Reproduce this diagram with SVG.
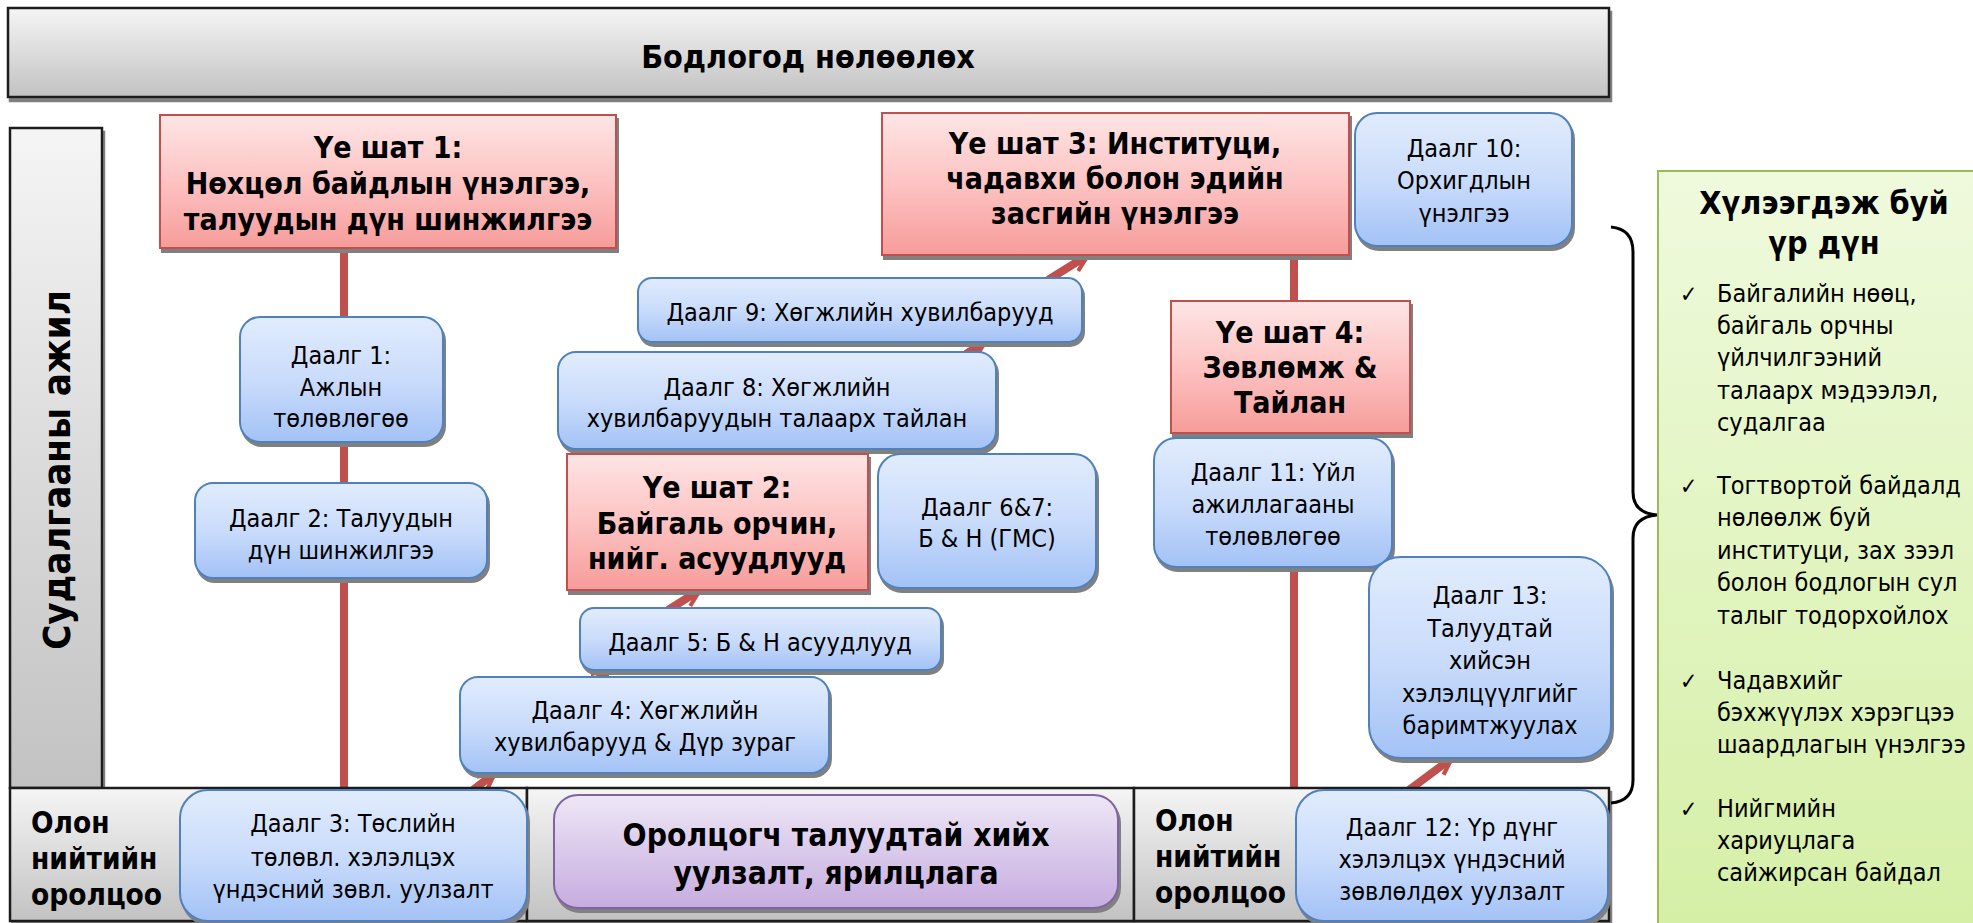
<svg xmlns="http://www.w3.org/2000/svg" width="1973" height="923" viewBox="0 0 1973 923">
<defs>
<linearGradient id="gGray" x1="0" y1="0" x2="0" y2="1"><stop offset="0" stop-color="#f5f5f5"/><stop offset="1" stop-color="#c2c2c2"/></linearGradient>
<linearGradient id="gRed" x1="0" y1="0" x2="0" y2="1"><stop offset="0" stop-color="#fee5e5"/><stop offset="0.5" stop-color="#fcc3c2"/><stop offset="1" stop-color="#f69c9a"/></linearGradient>
<linearGradient id="gBlue" x1="0" y1="0" x2="0" y2="1"><stop offset="0" stop-color="#e1ecfd"/><stop offset="0.5" stop-color="#cadcfb"/><stop offset="1" stop-color="#a3c2f6"/></linearGradient>
<linearGradient id="gPurple" x1="0" y1="0" x2="0" y2="1"><stop offset="0" stop-color="#eee7f6"/><stop offset="1" stop-color="#c6acdf"/></linearGradient>
<linearGradient id="gGreen" x1="0" y1="0" x2="0" y2="1"><stop offset="0" stop-color="#effadd"/><stop offset="1" stop-color="#d5efa6"/></linearGradient>
<filter id="sh" x="-5%" y="-5%" width="115%" height="125%">
<feFlood flood-color="#808080"/>
<feComposite in2="SourceAlpha" operator="in"/>
<feOffset dx="2" dy="4" result="o"/>
<feMerge><feMergeNode in="o"/><feMergeNode in="SourceGraphic"/></feMerge>
</filter>
<marker id="ah" viewBox="0 0 20 20" refX="17" refY="10" markerWidth="24" markerHeight="24" orient="auto" markerUnits="userSpaceOnUse">
<path d="M3,3 L17,10 L3,17" fill="none" stroke="#c0504d" stroke-width="3.5"/>
</marker>
</defs>
<style>
text{font-family:"DejaVu Sans Condensed","DejaVu Sans",sans-serif;fill:#000}
.b{font-weight:bold}
.c{text-anchor:middle}
.t{font-size:25px}
.st{font-size:30px;font-weight:bold;text-anchor:middle}
.op{font-size:29.5px;font-weight:bold}
.gray{fill:url(#gGray);stroke:#1e1e1e;stroke-width:2.5;filter:url(#sh)}
.red{fill:url(#gRed);stroke:#c0504d;stroke-width:2;filter:url(#sh)}
.blue{fill:url(#gBlue);stroke:#4f81bd;stroke-width:2;filter:url(#sh)}
.purple{fill:url(#gPurple);stroke:#8064a2;stroke-width:2;filter:url(#sh)}
.green{fill:url(#gGreen);stroke:#9bbb59;stroke-width:2}
.ln{stroke:#c0504d;stroke-width:8;fill:none}
.ar{stroke:#c0504d;stroke-width:8;fill:none;marker-end:url(#ah)}
</style>
<rect width="1973" height="923" fill="#ffffff"/>

<g id="connectors">
<line class="ln" x1="344" y1="248" x2="344" y2="790"/>
<line class="ln" x1="1294" y1="255" x2="1294" y2="790"/>
<line class="ar" x1="473" y1="790" x2="495" y2="773"/>
<line class="ar" x1="598" y1="679" x2="609" y2="670"/>
<line class="ar" x1="668" y1="610" x2="700" y2="590"/>
<line class="ar" x1="846" y1="456" x2="858" y2="449"/>
<line class="ar" x1="966" y1="354" x2="985" y2="342"/>
<line class="ar" x1="1048" y1="280" x2="1088" y2="255"/>
<line class="ar" x1="1409" y1="790" x2="1452" y2="758"/>
</g>

<g id="banner">
<rect class="gray" x="8" y="8" width="1601" height="89"/>
<text class="b c" x="808" y="68" font-size="32">Бодлогод нөлөөлөх</text>
</g>

<g id="research">
<rect class="gray" x="10" y="128" width="92" height="660"/>
<text class="b c" transform="translate(70,470) rotate(-90)" font-size="38">Судалгааны ажил</text>
</g>

<g id="stage1">
<rect class="red" x="160" y="115" width="456" height="133"/>
<text class="st" x="388" y="158">Үе шат 1:</text>
<text class="st" x="388" y="194">Нөхцөл байдлын үнэлгээ,</text>
<text class="st" x="388" y="230">талуудын дүн шинжилгээ</text>
</g>

<g id="stage3">
<rect class="red" x="882" y="113" width="467" height="142"/>
<text class="st" x="1115" y="154">Үе шат 3: Институци,</text>
<text class="st" x="1115" y="189">чадавхи болон эдийн</text>
<text class="st" x="1115" y="224">засгийн үнэлгээ</text>
</g>

<g id="task10">
<rect class="blue" x="1355" y="113" width="217" height="133" rx="22"/>
<text class="t c" x="1464" y="157">Даалг 10:</text>
<text class="t c" x="1464" y="189">Орхигдлын</text>
<text class="t c" x="1464" y="222">үнэлгээ</text>
</g>

<g id="stage4">
<rect class="red" x="1171" y="301" width="239" height="132"/>
<text class="st" x="1290" y="343">Үе шат 4:</text>
<text class="st" x="1290" y="378">Зөвлөмж &amp;</text>
<text class="st" x="1290" y="413">Тайлан</text>
</g>

<g id="task9">
<rect class="blue" x="638" y="278" width="444" height="64" rx="14"/>
<text class="t c" x="860" y="321">Даалг 9: Хөгжлийн хувилбарууд</text>
</g>

<g id="task8">
<rect class="blue" x="558" y="352" width="438" height="97" rx="18"/>
<text class="t c" x="777" y="396">Даалг 8: Хөгжлийн</text>
<text class="t c" x="777" y="427">хувилбаруудын талаарх тайлан</text>
</g>

<g id="task1">
<rect class="blue" x="240" y="317" width="203" height="125" rx="20"/>
<text class="t c" x="341" y="364">Даалг 1:</text>
<text class="t c" x="341" y="396">Ажлын</text>
<text class="t c" x="341" y="427">төлөвлөгөө</text>
</g>

<g id="task2">
<rect class="blue" x="195" y="483" width="292" height="95" rx="18"/>
<text class="t c" x="341" y="527">Даалг 2: Талуудын</text>
<text class="t c" x="341" y="559">дүн шинжилгээ</text>
</g>

<g id="stage2">
<rect class="red" x="567" y="454" width="301" height="136"/>
<text class="st" x="717" y="498">Үе шат 2:</text>
<text class="st" x="717" y="534">Байгаль орчин,</text>
<text class="st" x="717" y="569">нийг. асуудлууд</text>
</g>

<g id="task67">
<rect class="blue" x="878" y="454" width="218" height="134" rx="22"/>
<text class="t c" x="987" y="516">Даалг 6&amp;7:</text>
<text class="t c" x="987" y="547">Б &amp; Н (ГМС)</text>
</g>

<g id="task11">
<rect class="blue" x="1154" y="438" width="238" height="129" rx="22"/>
<text class="t c" x="1273" y="481">Даалг 11: Үйл</text>
<text class="t c" x="1273" y="513">ажиллагааны</text>
<text class="t c" x="1273" y="545">төлөвлөгөө</text>
</g>

<g id="task5">
<rect class="blue" x="580" y="608" width="361" height="62" rx="14"/>
<text class="t c" x="760" y="651">Даалг 5: Б &amp; Н асуудлууд</text>
</g>

<g id="task4">
<rect class="blue" x="460" y="677" width="369" height="96" rx="18"/>
<text class="t c" x="645" y="719">Даалг 4: Хөгжлийн</text>
<text class="t c" x="645" y="751">хувилбарууд &amp; Дүр зураг</text>
</g>

<g id="task13">
<rect class="blue" x="1369" y="557" width="242" height="201" rx="32"/>
<text class="t c" x="1490" y="604">Даалг 13:</text>
<text class="t c" x="1490" y="637">Талуудтай</text>
<text class="t c" x="1490" y="669">хийсэн</text>
<text class="t c" x="1490" y="702">хэлэлцүүлгийг</text>
<text class="t c" x="1490" y="734">баримтжуулах</text>
</g>

<g id="public-left">
<rect class="gray" x="10" y="788" width="517" height="133"/>
<text class="op" x="31" y="833">Олон</text>
<text class="op" x="31" y="869">нийтийн</text>
<text class="op" x="31" y="905">оролцоо</text>
</g>

<g id="meetings-band">
<rect class="gray" x="527" y="788" width="607" height="133"/>
</g>

<g id="public-right">
<rect class="gray" x="1134" y="788" width="475" height="133"/>
<text class="op" x="1155" y="831">Олон</text>
<text class="op" x="1155" y="867">нийтийн</text>
<text class="op" x="1155" y="903">оролцоо</text>
</g>

<g id="task3">
<rect class="blue" x="180" y="790" width="347" height="131" rx="28"/>
<text class="t c" x="353" y="832">Даалг 3: Төслийн</text>
<text class="t c" x="353" y="866">төлөвл. хэлэлцэх</text>
<text class="t c" x="353" y="898">үндэсний зөвл. уулзалт</text>
</g>

<g id="meetings">
<rect class="purple" x="554" y="795" width="564" height="113" rx="24"/>
<text class="b c" x="836" y="846" font-size="31.5">Оролцогч талуудтай хийх</text>
<text class="b c" x="836" y="884" font-size="31.5">уулзалт, ярилцлага</text>
</g>

<g id="task12">
<rect class="blue" x="1296" y="790" width="312" height="131" rx="28"/>
<text class="t c" x="1452" y="836">Даалг 12: Үр дүнг</text>
<text class="t c" x="1452" y="868">хэлэлцэх үндэсний</text>
<text class="t c" x="1452" y="900">зөвлөлдөх уулзалт</text>
</g>

<g id="brace">
<path d="M1611,227 Q1633,229 1633,252 L1633,492 Q1633,513 1657,515 Q1633,517 1633,538 L1633,780 Q1633,801 1611,803" fill="none" stroke="#000" stroke-width="3"/>
</g>

<g id="outcomes">
<rect class="green" x="1658" y="171" width="330" height="760"/>
<text class="b c" x="1824" y="214" font-size="32">Хүлээгдэж буй</text>
<text class="b c" x="1824" y="254" font-size="32">үр дүн</text>
<text x="1680" y="302" font-size="23">✓</text>
<text class="t" x="1717" y="302">Байгалийн нөөц,</text>
<text class="t" x="1717" y="334">байгаль орчны</text>
<text class="t" x="1717" y="366">үйлчилгээний</text>
<text class="t" x="1717" y="399">талаарх мэдээлэл,</text>
<text class="t" x="1717" y="431">судалгаа</text>
<text x="1680" y="494" font-size="23">✓</text>
<text class="t" x="1717" y="494">Тогтвортой байдалд</text>
<text class="t" x="1717" y="526">нөлөөлж буй</text>
<text class="t" x="1717" y="559">институци, зах зээл</text>
<text class="t" x="1717" y="591">болон бодлогын сул</text>
<text class="t" x="1717" y="624">талыг тодорхойлох</text>
<text x="1680" y="689" font-size="23">✓</text>
<text class="t" x="1717" y="689">Чадавхийг</text>
<text class="t" x="1717" y="721">бэхжүүлэх хэрэгцээ</text>
<text class="t" x="1717" y="753">шаардлагын үнэлгээ</text>
<text x="1680" y="817" font-size="23">✓</text>
<text class="t" x="1717" y="817">Нийгмийн</text>
<text class="t" x="1717" y="849">хариуцлага</text>
<text class="t" x="1717" y="881">сайжирсан байдал</text>
</g>
</svg>
